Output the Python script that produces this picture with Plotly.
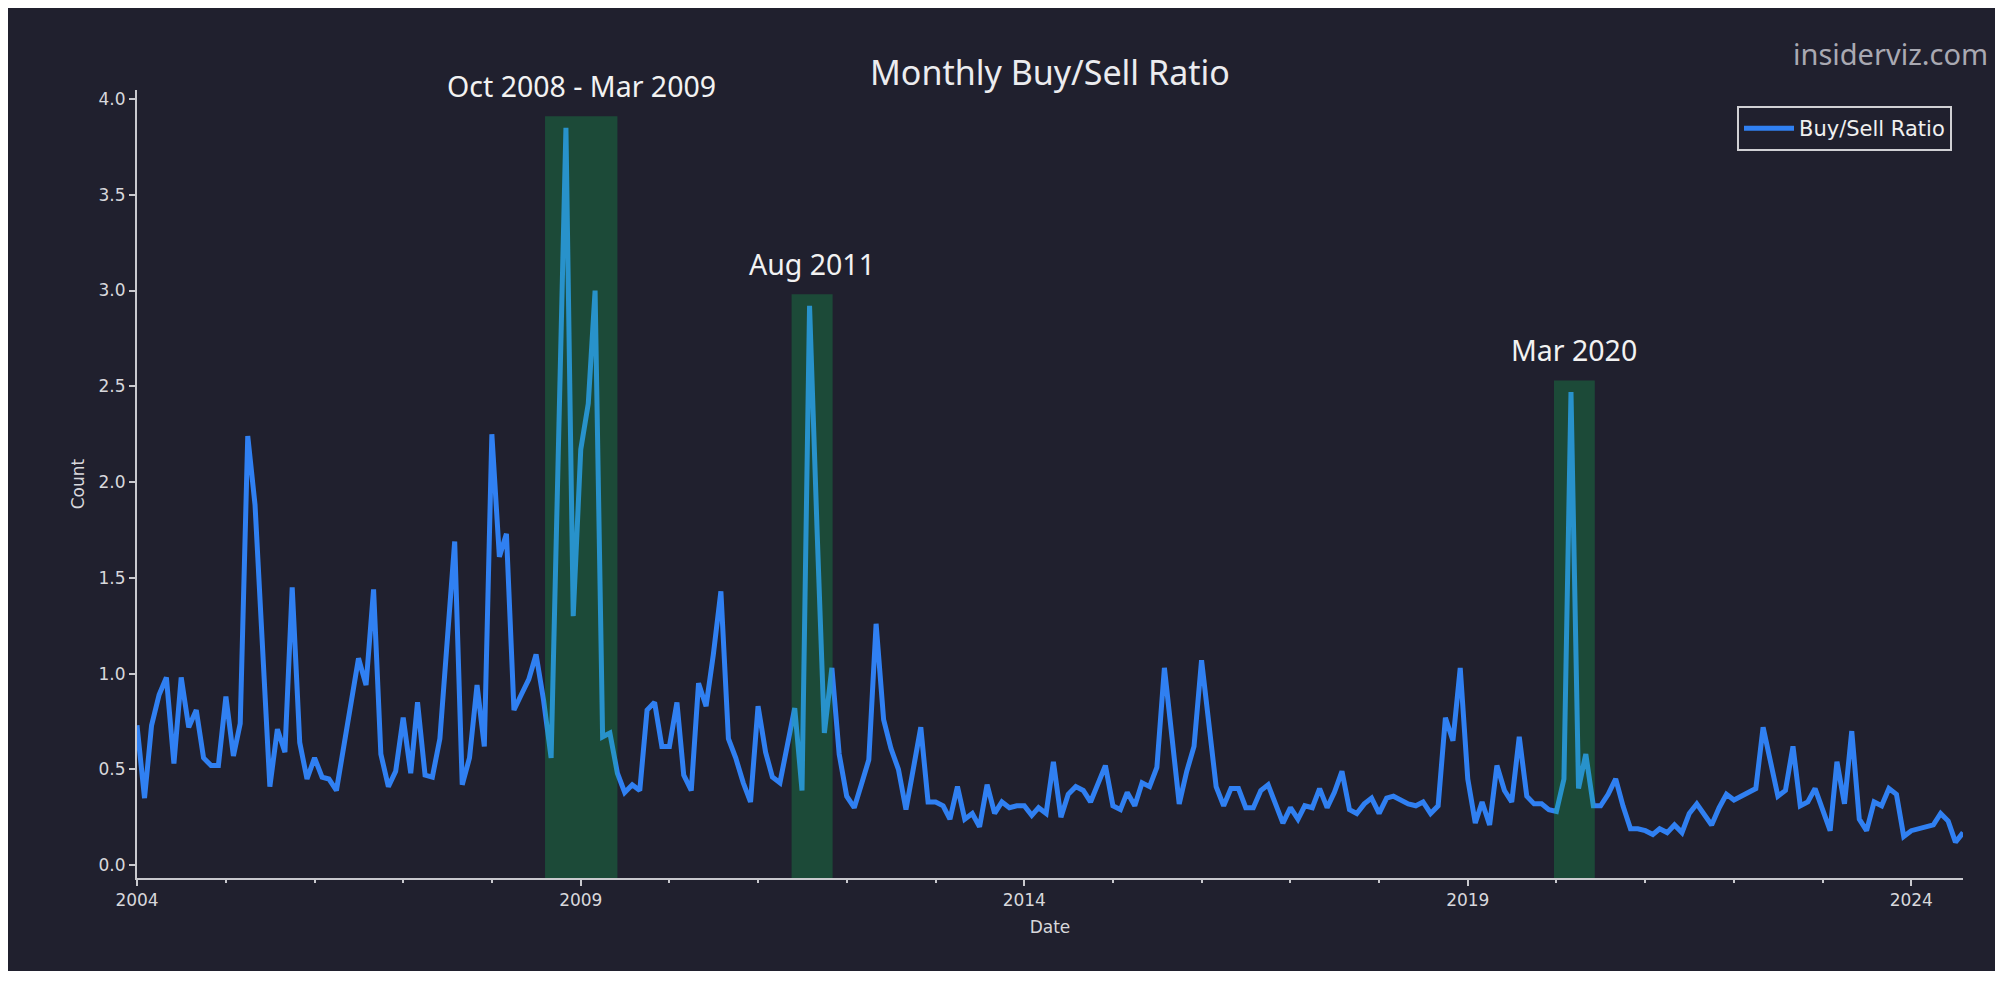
import pandas as pd
import plotly.graph_objects as go

# ---- data (monthly buy/sell ratio) ----
y2004 = [0.73, 0.35, 0.73, 0.89, 0.98, 0.53, 0.98, 0.72, 0.81, 0.56, 0.52, 0.52]
y2005 = [0.88, 0.57, 0.74, 2.24, 1.88, 1.15, 0.41, 0.71, 0.59, 1.45, 0.64, 0.45]
y2006 = [0.56, 0.46, 0.45, 0.39, 0.62, 0.85, 1.08, 0.94, 1.44, 0.58, 0.41, 0.49]
y2007 = [0.77, 0.48, 0.85, 0.47, 0.46, 0.66, 1.20, 1.69, 0.42, 0.56, 0.94, 0.62]
y2008 = [2.25, 1.61, 1.73, 0.81, 0.89, 0.97, 1.10, 0.86, 0.56, 2.20, 3.85, 1.30]
y2009 = [2.17, 2.41, 3.00, 0.67, 0.69, 0.48, 0.38, 0.42, 0.39, 0.81, 0.85, 0.62]
y2010 = [0.62, 0.85, 0.47, 0.39, 0.95, 0.83, 1.10, 1.43, 0.66, 0.56, 0.43, 0.33]
y2011 = [0.83, 0.59, 0.46, 0.43, 0.61, 0.82, 0.39, 2.92, 1.75, 0.69, 1.03, 0.58]
y2012 = [0.36, 0.30, 0.42, 0.55, 1.26, 0.76, 0.61, 0.50, 0.29, 0.50, 0.72, 0.33]
y2013 = [0.33, 0.31, 0.24, 0.41, 0.24, 0.27, 0.20, 0.42, 0.27, 0.33, 0.30, 0.31]
y2014 = [0.31, 0.26, 0.30, 0.27, 0.54, 0.25, 0.37, 0.41, 0.39, 0.33, 0.43, 0.52]
y2015 = [0.31, 0.29, 0.38, 0.31, 0.43, 0.41, 0.51, 1.03, 0.67, 0.32, 0.49, 0.62]
y2016 = [1.07, 0.74, 0.41, 0.31, 0.40, 0.40, 0.30, 0.30, 0.39, 0.42, 0.32, 0.22]
y2017 = [0.30, 0.24, 0.31, 0.30, 0.40, 0.30, 0.38, 0.49, 0.29, 0.27, 0.32, 0.35]
y2018 = [0.27, 0.35, 0.36, 0.34, 0.32, 0.31, 0.33, 0.27, 0.31, 0.77, 0.65, 1.03]
y2019 = [0.45, 0.22, 0.33, 0.21, 0.52, 0.39, 0.33, 0.67, 0.36, 0.32, 0.32, 0.29]
y2020 = [0.28, 0.45, 2.47, 0.40, 0.58, 0.31, 0.31, 0.37, 0.45, 0.31, 0.19, 0.19]
y2021 = [0.18, 0.16, 0.19, 0.17, 0.21, 0.17, 0.27, 0.32, 0.26, 0.21, 0.30, 0.37]
y2022 = [0.34, 0.36, 0.38, 0.40, 0.72, 0.54, 0.36, 0.39, 0.62, 0.31, 0.33, 0.40]
y2023 = [0.29, 0.18, 0.54, 0.32, 0.70, 0.24, 0.18, 0.33, 0.31, 0.40, 0.37, 0.15]
y2024 = [0.18, 0.19, 0.20, 0.21, 0.27, 0.23, 0.12, 0.17]

ratio = (y2004 + y2005 + y2006 + y2007 + y2008 + y2009 + y2010 + y2011 + y2012
         + y2013 + y2014 + y2015 + y2016 + y2017 + y2018 + y2019 + y2020
         + y2021 + y2022 + y2023 + y2024)
dates = pd.date_range("2004-01-01", periods=len(ratio), freq="MS")

event_labels = ["Oct 2008 - Mar 2009", "Aug 2011", "Mar 2020"]
event_starts = ["2008-08-07", "2011-05-19", "2019-12-22"]
event_ends = ["2009-06-01", "2011-11-04", "2020-06-07"]
event_tops = [3.91, 2.98, 2.53]

x_tick_vals = ["2004-01-01", "2009-01-01", "2014-01-01", "2019-01-01", "2024-01-01"]
x_tick_text = ["2004", "2009", "2014", "2019", "2024"]

# ---- styling ----
OFF = 8                      # page body margin
W, H = 1987, 963             # figure size
L, R, T, B = 129, 32, 82, 93  # plot area margins (figure px)
BG = "#20202e"
LINE = "#3080f2"
AXC = "#c9c9ce"
TXT = "#d8d8dc"
YMIN, YMAX = -0.067, 4.047

pw, ph = W - L - R, H - T - B


def px_to_paper_x(page_px):
    return (page_px - OFF - L) / pw


def px_to_paper_y(page_py):
    return (H - B - (page_py - OFF)) / ph


def val_to_paper_y(v):
    return (v - YMIN) / (YMAX - YMIN)


fig = go.Figure()
fig.add_trace(go.Scatter(
    x=dates, y=ratio, mode="lines", name="Buy/Sell Ratio",
    line=dict(color=LINE, width=5), hoverinfo="x+y"))

for label, s, e, top in zip(event_labels, event_starts, event_ends, event_tops):
    fig.add_shape(type="rect", xref="x", yref="y", x0=s, x1=e, y0=YMIN, y1=top,
                  fillcolor="rgb(17,201,88)", opacity=0.25, line_width=0, layer="above")
    ts, te = pd.Timestamp(s), pd.Timestamp(e)
    mid = ts + (te - ts) / 2
    fig.add_annotation(x=mid, y=val_to_paper_y(top + 0.16), xref="x", yref="paper", text=label,
                       showarrow=False, yanchor="middle",
                       font=dict(family="Noto Sans", size=28.5, color="#f2f2f2"))

fig.add_annotation(text="Monthly Buy/Sell Ratio", xref="paper", yref="paper",
                   x=0.5, y=px_to_paper_y(72), xanchor="center", yanchor="middle",
                   showarrow=False, font=dict(family="Noto Sans", size=34, color="#ececef"))
fig.add_annotation(text="insiderviz.com", xref="paper", yref="paper",
                   x=px_to_paper_x(1990), y=px_to_paper_y(54), xanchor="right", yanchor="middle",
                   showarrow=False, font=dict(family="Noto Sans", size=29, color="#a9a9b2"))

fig.update_layout(
    width=W, height=H,
    margin=dict(l=L, r=R, t=T, b=B, autoexpand=False),
    paper_bgcolor=BG, plot_bgcolor=BG,
    showlegend=True,
    legend=dict(x=px_to_paper_x(1952), y=px_to_paper_y(106), xanchor="right", yanchor="top",
                bgcolor=BG, bordercolor="#d0d0d4", borderwidth=2, itemwidth=50,
                font=dict(family="DejaVu Sans", size=21, color="#f0f0f0")),
    xaxis=dict(type="date", range=["2004-01-01", "2024-08-01"],
               tickmode="array", tickvals=x_tick_vals, ticktext=x_tick_text,
               showline=True, linecolor=AXC, linewidth=2, ticks="outside", ticklen=6,
               tickcolor=AXC, tickwidth=1.5, showgrid=False, zeroline=False,
               minor=dict(ticks="outside", ticklen=3, tickcolor=AXC, dtick="M12",
                          tick0="2004-01-01", showgrid=False),
               tickfont=dict(family="DejaVu Sans", size=17, color=TXT),
               title=dict(text="Date", standoff=12,
                          font=dict(family="DejaVu Sans", size=17, color=TXT)),
               automargin=False),
    yaxis=dict(range=[YMIN, YMAX], tickmode="array",
               tickvals=[0, 0.5, 1, 1.5, 2, 2.5, 3, 3.5, 4],
               ticktext=["0.0", "0.5", "1.0", "1.5", "2.0", "2.5", "3.0", "3.5", "4.0"],
               showline=True, linecolor=AXC, linewidth=2, ticks="outside", ticklen=6,
               tickcolor=AXC, tickwidth=1.5, showgrid=False, zeroline=False,
               tickfont=dict(family="DejaVu Sans", size=17, color=TXT),
               title=dict(text="Count", standoff=10,
                          font=dict(family="DejaVu Sans", size=17, color=TXT)),
               automargin=False),
)

fig.write_html("out.html")
